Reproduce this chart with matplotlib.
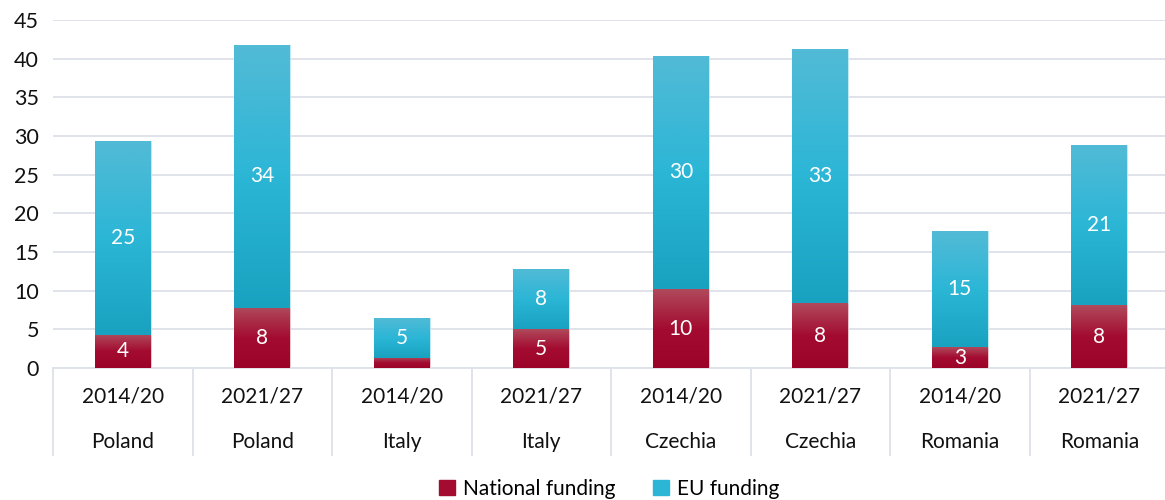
import numpy as np
import matplotlib.pyplot as plt
from matplotlib.colors import LinearSegmentedColormap
from matplotlib.patches import Patch

periods = ["2014/20", "2021/27", "2014/20", "2021/27", "2014/20", "2021/27", "2014/20", "2021/27"]
countries = ["Poland", "Poland", "Italy", "Italy", "Czechia", "Czechia", "Romania", "Romania"]
national = [4.3, 7.8, 1.3, 5.0, 10.2, 8.4, 2.7, 8.1]
eu = [25.0, 34.0, 5.2, 7.8, 30.2, 32.9, 15.0, 20.7]

plt.rcParams['font.family'] = ['Lato', 'DejaVu Sans']

red_cmap = LinearSegmentedColormap.from_list("red", ["#9C0328", "#A30C30", "#B04A5C"])
blue_cmap = LinearSegmentedColormap.from_list("blue", ["#19A2C0", "#2CB6D6", "#52BBD6"])


def gradient_fill(ax, bars, cmap):
    grad = np.linspace(0, 1, 256).reshape(-1, 1)
    for b in bars:
        x0, y0 = b.get_x(), b.get_y()
        w, h = b.get_width(), b.get_height()
        im = ax.imshow(grad, cmap=cmap, origin='lower', aspect='auto',
                       extent=[x0, x0 + w, y0, y0 + h], zorder=3)
        im.set_clip_path(b)


fig = plt.figure(figsize=(11.65, 5.0), dpi=100)
ax = fig.add_axes([0.0455, 0.264, 0.958, 0.696])

x = np.arange(len(periods))
width = 0.4
b1 = ax.bar(x, national, width, color="#A30C30", edgecolor="#f0d0d8", linewidth=0.6, zorder=2)
b2 = ax.bar(x, eu, width, bottom=national, color="#2CB6D6", edgecolor="#c8ecf5", linewidth=0.6, zorder=2)
gradient_fill(ax, b1, red_cmap)
gradient_fill(ax, b2, blue_cmap)

# labels only on segments big enough to hold them
for i in range(len(x)):
    if national[i] >= 2:
        ax.text(x[i], national[i] / 2, f"{national[i]:.0f}", ha='center', va='center',
                color='white', fontsize=15, zorder=5)
    if eu[i] >= 2:
        ax.text(x[i], national[i] + eu[i] / 2, f"{eu[i]:.0f}", ha='center', va='center',
                color='white', fontsize=15, zorder=5)

ax.set_xlim(-0.5, len(x) - 0.5)
ax.set_ylim(0, 45)
ax.set_yticks(range(0, 50, 5))
ax.tick_params(axis='y', length=0, labelsize=15.5, pad=10, labelcolor='#111111')
ax.set_xticks([])
ax.grid(axis='y', color='#DDE1E8', linewidth=1.3, zorder=0)
ax.set_axisbelow(True)
for s in ['top', 'right', 'left']:
    ax.spines[s].set_visible(False)
ax.spines['bottom'].set_color('#DDE1E8')
ax.spines['bottom'].set_linewidth(1.3)

# two-level category axis
trans = ax.get_xaxis_transform()
for i in range(len(x) + 1):
    ax.plot([i - 0.5, i - 0.5], [0, -0.25], transform=trans, color='#DDE1E8',
            linewidth=1.3, clip_on=False)
for i in range(len(x)):
    ax.text(x[i], -0.082, periods[i], transform=trans, ha='center', va='center',
            fontsize=15, color='#111111')
    ax.text(x[i], -0.212, countries[i], transform=trans, ha='center', va='center',
            fontsize=15, color='#111111')

handles = [Patch(color="#A30C30", label="National funding"),
           Patch(color="#2CB6D6", label="EU funding")]
fig.legend(handles=handles, loc='center', bbox_to_anchor=(0.523, 0.022), ncol=2,
           frameon=False, fontsize=15, handlelength=0.75, handleheight=0.75,
           handletextpad=0.4, columnspacing=1.8)

fig.savefig("out.png", dpi=100)
